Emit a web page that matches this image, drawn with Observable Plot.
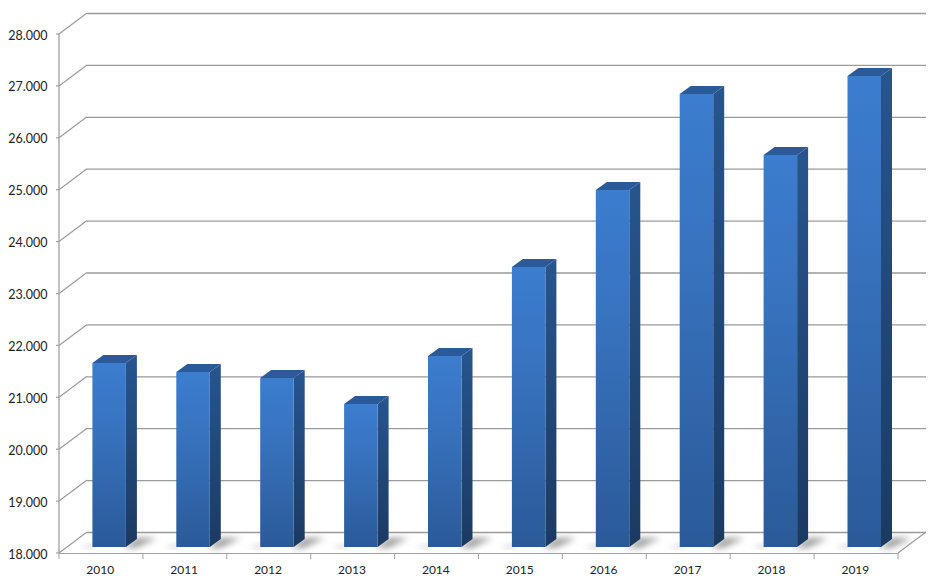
<!DOCTYPE html>
<html><head><meta charset="utf-8">
<style>html,body{margin:0;padding:0;background:#fff}svg{display:block}</style>
<script src="https://cdn.jsdelivr.net/npm/d3@7"></script>
<script src="https://cdn.jsdelivr.net/npm/@observablehq/plot@0.6"></script>
</head><body><script>
const years = ["2010","2011","2012","2013","2014","2015","2016","2017","2018","2019"];
const totals = [21545,21372,21256,20755,21680,23395,24880,26730,25553,27075];
const yTicks = [18000,19000,20000,21000,22000,23000,24000,25000,26000,27000,28000];
const tickLabels = ["18.000","19.000","20.000","21.000","22.000","23.000","24.000","25.000","26.000","27.000","28.000"];
const data = years.map((year,i)=>({year,value:totals[i]}));
const labelOf = new Map(yTicks.map((t,i)=>[t,tickLabels[i]]));

const gridColor="#9a9a9a", axisColor="#a0a0a0";
const wallDx=28, wallDy=-21;     // depth of the chart box
const barDx=8.2, barDy=-6;       // bar sits inside the depth
const depthX=11, depthY=-8;      // depth of a bar
const inset=25.2;

const ns="http://www.w3.org/2000/svg";
function el(name,attrs,parent){
  const e=document.createElementNS(ns,name);
  for(const k in attrs)e.setAttribute(k,attrs[k]);
  if(parent)parent.appendChild(e);
  return e;
}
function grad(id,stops,parent){
  const g=el("linearGradient",{id,x1:0,y1:0,x2:0,y2:1},parent);
  for(const [offset,c] of stops)el("stop",{offset,"stop-color":c},g);
}
const defsMark=()=>{
  const d=el("defs",{});
  grad("front",[[0,"#3b7dcf"],[0.35,"#3873bf"],[1,"#2a5a98"]],d);
  grad("side",[[0,"#27558f"],[1,"#1b3a62"]],d);
  const f=el("filter",{id:"soft",x:"-50%",y:"-50%",width:"200%",height:"200%"},d);
  el("feGaussianBlur",{stdDeviation:3},f);
  return d;
};
// polygon faces of each bar, geometry derived from the x / y scales
function faces(fn,attrs){
  return (index,{x,y})=>{
    const g=el("g",{});
    const bw=x.bandwidth();
    for(const d of data){
      const l=x(d.year)+inset+barDx, r=x(d.year)+bw-inset+barDx;
      const t=y(d.value)+barDy, b=y(yTicks[0])+barDy;
      el("polygon",{points:fn(l,r,t,b).map(q=>q.join(",")).join(" "),...attrs},g);
    }
    return g;
  };
}
// slanted wall/floor lines, axis line and ticks
const frame=(index,{x,y})=>{
  const g=el("g",{});
  const line=(x1,y1,x2,y2,stroke,w=1.2)=>el("line",{x1,y1,x2,y2,stroke,"stroke-width":w},g);
  const [x0,x1]=x.range(), yb=y(yTicks[0]), yt=y(yTicks[yTicks.length-1]);
  for(const t of yTicks){line(x0,y(t),x0+wallDx,y(t)+wallDy,gridColor);line(x0-3,y(t),x0,y(t),axisColor);}
  line(x1,yb,x1+wallDx,yb+wallDy,gridColor);
  line(x0,yt,x0,yb,axisColor,1.3);
  for(const e of [...years.map(v=>x(v)),x1])line(e,yb,e,yb+6,axisColor,1);
  return g;
};

const chart=Plot.plot({
  width:938,height:578,marginLeft:59,marginRight:40,marginTop:34,marginBottom:25,
  style:{background:"#fff",fontFamily:"Lato, sans-serif",fontSize:"12px",color:"#222"},
  x:{type:"band",domain:years,padding:0,round:false,label:null},
  y:{type:"linear",domain:[18000,28000],label:null},
  marks:[
    defsMark,
    Plot.ruleY(yTicks,{dx:wallDx,dy:wallDy,stroke:gridColor,strokeWidth:1.3}),
    Plot.ruleY([yTicks[0]],{stroke:axisColor,strokeWidth:1.2}),
    frame,
    faces((l,r,t,b)=>[[r-2,b+1],[r+depthX,b+depthY-1],[r+depthX+20,b+depthY-1],[r+10,b+1]],{fill:"#8c8c8c",opacity:0.85,filter:"url(#soft)"}),
    faces((l,r,t,b)=>[[l-12,b+1],[l+2,b-3],[l+2,b+1]],{fill:"#a8a8a8",opacity:0.7,filter:"url(#soft)"}),
    faces((l,r,t,b)=>[[r,t],[r+depthX,t+depthY],[r+depthX,b+depthY],[r,b]],{fill:"url(#side)"}),
    faces((l,r,t,b)=>[[l,t],[l+depthX,t+depthY],[r+depthX,t+depthY],[r,t]],{fill:"#2a5a98"}),
    Plot.barY(data,{x:"year",y1:yTicks[0],y2:"value",dx:barDx,dy:barDy,insetLeft:inset,insetRight:inset,fill:"url(#front)"}),
    Plot.axisX({tickSize:0,tickPadding:12,dx:-1.2,label:null,fontSize:12,fill:"#222"}),
    Plot.axisY(yTicks,{tickSize:0,tickPadding:12,dy:1,label:null,tickFormat:d=>labelOf.get(d),fontSize:12.5,fill:"#222"})
  ]
});
document.body.appendChild(chart);
</script></body></html>
